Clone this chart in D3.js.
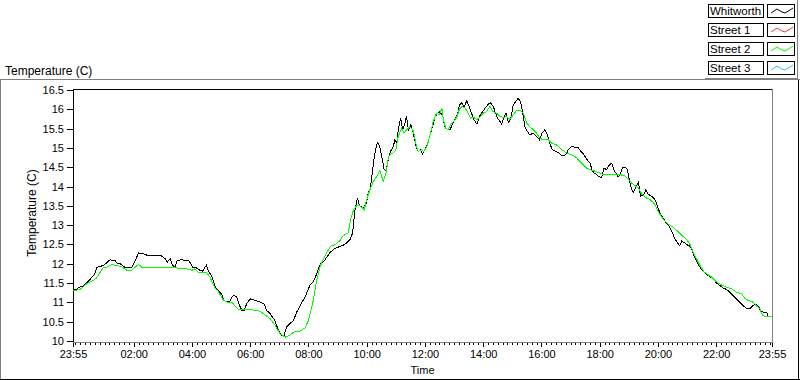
<!DOCTYPE html>
<html>
<head>
<meta charset="utf-8">
<script src="https://cdn.jsdelivr.net/npm/d3@7"></script>
<style>
  body { margin: 0; background: #fff; }
  svg { display: block; font-family: "Liberation Sans", Arial, sans-serif; font-size: 11px; }
</style>
</head>
<body>
<svg id="chart" width="800" height="380"></svg>
<script>
// legend entries (only Whitworth and Street 2 carry data in this view)
const seriesNames = ["Whitworth", "Street 1", "Street 2", "Street 3"]

// [minutes since 23:55, temperature C]
const whitworth = [
  [0,11.40],[4,11.31],[14,11.40],[21,11.41],[28,11.50],[39,11.65],[45,11.74],[49,11.91],[56,11.93],[63,11.96],
  [69,12.02],[76,12.10],[87,12.09],[90,12.02],[97,12.00],[107,11.91],[121,11.91],[126,12.02],[135,12.28],[145,12.26],
  [153,12.22],[166,12.22],[183,12.20],[190,12.13],[194,12.04],[200,12.13],[205,11.96],[210,11.91],[215,12.09],[222,12.10],
  [238,12.09],[242,12.02],[247,11.91],[253,11.90],[262,11.83],[267,11.81],[272,11.91],[275,11.96],[279,11.81],[286,11.67],
  [293,11.40],[299,11.31],[306,11.22],[311,11.05],[317,11.01],[323,11.01],[327,11.14],[332,11.18],[337,11.14],[342,10.95],
  [348,10.79],[352,10.78],[358,10.97],[365,11.09],[375,11.05],[385,11.01],[394,10.95],[399,10.79],[406,10.71],[416,10.53],
  [423,10.28],[430,10.15],[435,10.15],[440,10.36],[447,10.45],[454,10.53],[461,10.75],[468,10.92],[478,11.14],[488,11.44],
  [495,11.53],[502,11.74],[509,11.98],[519,12.10],[530,12.30],[540,12.40],[550,12.45],[560,12.50],[571,12.63],[576,12.80],
  [581,13.40],[586,13.71],[590,13.50],[598,13.45],[605,13.58],[608,13.84],[612,13.93],[615,14.18],[619,14.61],[622,14.87],
  [627,15.14],[632,15.04],[636,14.78],[641,14.44],[645,14.42],[650,14.74],[654,14.91],[660,15.04],[663,15.21],[667,15.12],
  [670,15.47],[675,15.77],[679,15.47],[683,15.60],[687,15.83],[691,15.47],[696,15.60],[701,15.38],[707,15.04],[711,14.91],
  [716,14.95],[720,14.85],[725,14.95],[732,15.17],[739,15.49],[746,15.80],[751,15.90],[756,15.94],[762,15.81],[766,15.55],
  [771,15.49],[777,15.47],[782,15.64],[787,15.74],[792,15.86],[796,16.11],[801,16.17],[806,16.05],[811,16.22],[816,16.08],
  [821,15.90],[826,15.73],[832,15.62],[838,15.83],[844,15.94],[849,16.03],[856,16.14],[860,16.17],[866,16.07],[871,15.88],
  [876,15.74],[880,15.68],[883,15.62],[888,15.79],[892,15.90],[897,15.66],[902,15.77],[907,16.11],[913,16.22],[917,16.28],
  [922,16.20],[926,15.94],[931,15.55],[936,15.43],[941,15.34],[948,15.38],[955,15.30],[961,15.21],[966,15.38],[972,15.47],
  [977,15.34],[983,15.08],[988,14.95],[1000,14.88],[1005,14.82],[1012,14.80],[1017,14.85],[1020,14.95],[1027,15.04],[1034,15.02],
  [1041,15.00],[1046,14.91],[1051,14.85],[1058,14.71],[1065,14.61],[1069,14.44],[1073,14.35],[1079,14.31],[1084,14.25],[1089,14.23],
  [1094,14.48],[1099,14.44],[1105,14.56],[1110,14.61],[1115,14.40],[1119,14.35],[1123,14.25],[1127,14.31],[1132,14.48],[1137,14.50],
  [1142,14.44],[1146,14.18],[1151,13.92],[1154,13.84],[1160,14.00],[1165,14.11],[1169,13.75],[1175,13.78],[1180,13.91],[1185,13.80],
  [1192,13.75],[1199,13.66],[1204,13.49],[1209,13.32],[1215,13.19],[1222,13.06],[1228,12.98],[1233,12.85],[1240,12.65],[1245,12.55],
  [1250,12.46],[1254,12.59],[1259,12.55],[1264,12.50],[1270,12.46],[1275,12.37],[1279,12.20],[1285,12.07],[1292,11.90],[1299,11.79],
  [1305,11.73],[1312,11.67],[1319,11.60],[1326,11.50],[1333,11.43],[1340,11.37],[1347,11.33],[1353,11.26],[1360,11.18],[1367,11.08],
  [1374,11.00],[1381,10.91],[1388,10.84],[1395,10.84],[1402,10.93],[1407,10.95],[1412,10.90],[1417,10.76],[1422,10.75],[1429,10.75],
  [1432,10.64],[1440,10.64]
]

const street1 = []

const street2 = [
  [0,11.31],[14,11.33],[28,11.48],[42,11.57],[49,11.64],[56,11.78],[63,11.91],[69,11.91],[80,11.98],[87,11.96],
  [100,11.93],[111,11.83],[121,11.83],[128,11.91],[135,11.98],[142,11.91],[179,11.91],[207,11.91],[220,11.87],[234,11.87],
  [245,11.83],[251,11.87],[258,11.78],[275,11.78],[282,11.66],[291,11.40],[299,11.29],[310,11.05],[320,11.00],[327,11.00],
  [334,10.91],[341,10.81],[365,10.81],[382,10.79],[392,10.71],[406,10.58],[416,10.41],[426,10.19],[437,10.10],[447,10.15],
  [454,10.23],[468,10.26],[478,10.34],[485,10.53],[495,11.05],[502,11.57],[509,11.93],[519,12.20],[530,12.45],[540,12.50],
  [550,12.60],[556,12.72],[567,12.80],[572,13.15],[578,13.40],[584,13.50],[591,13.50],[600,13.40],[605,13.66],[612,13.93],
  [619,14.14],[626,14.26],[632,14.42],[639,14.14],[645,14.35],[650,14.78],[654,14.83],[660,14.87],[665,14.95],[670,15.30],
  [677,15.51],[682,15.38],[687,15.47],[694,15.55],[700,15.47],[703,15.34],[707,15.08],[711,14.91],[718,14.95],[723,14.91],
  [729,15.04],[735,15.30],[742,15.68],[749,15.90],[755,15.86],[760,16.03],[763,15.73],[768,15.51],[773,15.47],[780,15.64],
  [787,15.73],[790,15.77],[796,16.00],[801,16.07],[808,16.03],[814,15.90],[819,15.77],[825,15.79],[832,15.74],[838,15.79],
  [845,15.90],[852,15.94],[859,16.08],[865,15.94],[873,15.90],[880,15.81],[887,15.79],[893,15.81],[900,15.74],[907,15.86],
  [914,15.97],[921,15.98],[928,15.90],[935,15.64],[941,15.55],[948,15.47],[955,15.38],[962,15.25],[969,15.21],[979,15.21],
  [986,15.12],[996,15.08],[1003,15.00],[1005,14.97],[1012,14.91],[1020,14.85],[1031,14.80],[1038,14.74],[1044,14.65],[1051,14.57],
  [1058,14.48],[1065,14.44],[1075,14.40],[1086,14.35],[1093,14.31],[1127,14.31],[1137,14.27],[1144,14.20],[1151,14.09],[1158,14.02],
  [1165,13.96],[1172,13.80],[1180,13.71],[1189,13.66],[1196,13.58],[1202,13.45],[1209,13.28],[1216,13.15],[1223,13.06],[1231,12.99],
  [1238,12.93],[1245,12.85],[1254,12.74],[1264,12.63],[1271,12.50],[1278,12.29],[1285,12.12],[1292,11.95],[1300,11.79],[1307,11.73],
  [1316,11.65],[1323,11.56],[1329,11.50],[1336,11.45],[1347,11.39],[1357,11.35],[1367,11.26],[1378,11.22],[1384,11.10],[1391,11.05],
  [1402,11.00],[1408,10.91],[1415,10.83],[1421,10.65],[1429,10.64],[1440,10.64]
]

const street3 = []

const yTicks = [10, 10.5, 11, 11.5, 12, 12.5, 13, 13.5, 14, 14.5, 15, 15.5, 16, 16.5]
const majorHours = [2, 4, 6, 8, 10, 12, 14, 16, 18, 20, 22]

const colors = ["#000000", "#ff3333", "#00ff00", "#33bbff"]
const seriesData = [whitworth, street1, street2, street3]

const start = new Date(2000, 0, 1, 23, 55)
const end = d3.timeMinute.offset(start, 1440)
const at = (m) => d3.timeMinute.offset(start, m)

const plot = { left: 73, right: 772, top: 90, bottom: 342 }

const svg = d3.select("#chart")

const x = d3.scaleTime().domain([start, end]).range([plot.left, plot.right])
const y = d3.scaleLinear().domain([10, 16.5]).range([plot.bottom - 1, plot.top])

// outer panel (sunken look)
const panel = svg.append("g").attr("shape-rendering", "crispEdges")
panel.append("line").attr("x1", 0).attr("x2", 800).attr("y1", 79.5).attr("y2", 79.5).attr("stroke", "#808080")
panel.append("line").attr("x1", 0.5).attr("x2", 0.5).attr("y1", 80).attr("y2", 380).attr("stroke", "#808080")
panel.append("line").attr("x1", 0).attr("x2", 800).attr("y1", 379.5).attr("y2", 379.5).attr("stroke", "#000")
panel.append("line").attr("x1", 798.5).attr("x2", 798.5).attr("y1", 80).attr("y2", 380).attr("stroke", "#000")
panel.append("line").attr("x1", 797.5).attr("x2", 797.5).attr("y1", 0).attr("y2", 80).attr("stroke", "#808080")
panel.append("line").attr("x1", 705).attr("x2", 798).attr("y1", 78.5).attr("y2", 78.5).attr("stroke", "#808080")

svg.append("text").attr("x", 5).attr("y", 75).attr("font-size", 12).text("Temperature (C)")

// clip
svg.append("defs").append("clipPath").attr("id", "clip")
  .append("rect").attr("x", plot.left).attr("y", plot.top - 1)
  .attr("width", plot.right - plot.left).attr("height", plot.bottom - plot.top + 1)

// axes
const yAxis = svg.append("g")
  .attr("transform", `translate(${plot.left},0)`)
  .call(d3.axisLeft(y).tickValues(yTicks).tickSize(6).tickPadding(3).tickFormat(d3.format("~f")))
yAxis.select(".domain").remove()

const minorTicks = d3.range(5, 1440, 10).map(at)
const minorAxis = svg.append("g")
  .attr("transform", `translate(0,${plot.bottom})`)
  .call(d3.axisBottom(x).tickValues(minorTicks).tickSize(3).tickFormat(""))
minorAxis.select(".domain").remove()

const majorTicks = [start, ...majorHours.map((h) => new Date(2000, 0, 2, h, 0)), end]
const xAxis = svg.append("g")
  .attr("transform", `translate(0,${plot.bottom})`)
  .call(d3.axisBottom(x).tickValues(majorTicks).tickSize(5).tickPadding(3).tickFormat(d3.timeFormat("%H:%M")))
xAxis.select(".domain").remove()

svg.selectAll(".tick text").attr("font-family", "Liberation Sans, Arial, sans-serif").attr("font-size", 11).attr("fill", "#000")
svg.selectAll(".tick line").attr("stroke", "#000").attr("shape-rendering", "crispEdges")

// plot frame: dark top/left, grey bottom/right
const frame = svg.append("g").attr("shape-rendering", "crispEdges")
frame.append("line").attr("x1", plot.left).attr("x2", plot.right).attr("y1", plot.top - 0.5).attr("y2", plot.top - 0.5).attr("stroke", "#000")
frame.append("line").attr("x1", plot.left + 0.5).attr("x2", plot.left + 0.5).attr("y1", plot.top - 1).attr("y2", plot.bottom).attr("stroke", "#000")
frame.append("line").attr("x1", plot.right + 0.5).attr("x2", plot.right + 0.5).attr("y1", plot.top - 1).attr("y2", plot.bottom + 1).attr("stroke", "#808080")
frame.append("line").attr("x1", plot.left).attr("x2", plot.right + 1).attr("y1", plot.bottom + 0.5).attr("y2", plot.bottom + 0.5).attr("stroke", "#808080")

// series
const line = d3.line()
  .x((d) => x(at(d[0])))
  .y((d) => y(d[1]))

svg.append("g").attr("clip-path", "url(#clip)")
  .selectAll("path")
  .data(seriesData.map((d, i) => ({ d, i })).filter((s) => s.d.length))
  .join("path")
  .attr("d", (s) => line(s.d))
  .attr("fill", "none")
  .attr("stroke", (s) => colors[s.i])
  .attr("stroke-width", 1)
  .attr("shape-rendering", "crispEdges")

// axis titles
svg.append("text")
  .attr("transform", "translate(36,213) rotate(-90)")
  .attr("text-anchor", "middle")
  .attr("font-size", 12)
  .text("Temperature (C)")

svg.append("text")
  .attr("x", (plot.left + plot.right) / 2)
  .attr("y", 374)
  .attr("text-anchor", "middle")
  .text("Time")

// legend
const legend = svg.append("g").attr("shape-rendering", "crispEdges")
const rows = legend.selectAll("g").data(seriesNames).join("g")
  .attr("transform", (d, i) => `translate(0,${4 + i * 19})`)

rows.append("rect").attr("x", 708.5).attr("y", 0.5).attr("width", 55).attr("height", 13)
  .attr("fill", "#fff").attr("stroke", "#000")
rows.append("text").attr("x", 710).attr("y", 11).attr("font-size", 11.5).text((d) => d)
rows.append("rect").attr("x", 767.5).attr("y", 0.5).attr("width", 27).attr("height", 13)
  .attr("fill", "#fff").attr("stroke", "#000")
rows.append("path")
  .attr("d", "M771,9L777,5L782,8L785,9L790,6L793,4")
  .attr("fill", "none")
  .attr("shape-rendering", "auto")
  .attr("stroke", (d, i) => colors[i])
</script>
</body>
</html>
